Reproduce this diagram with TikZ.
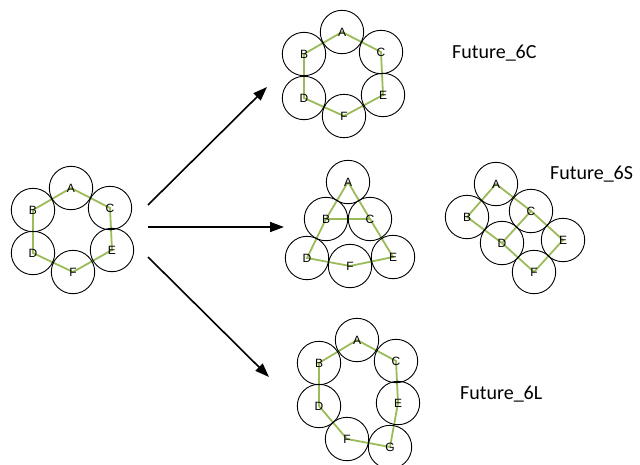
\documentclass[tikz,border=0pt]{standalone}
\usepackage{fontspec}
\setmainfont{Liberation Sans}
\newfontfamily\capfont{Carlito}
\usetikzlibrary{arrows.meta,backgrounds}
\definecolor{linkgreen}{RGB}{155,187,89}
\tikzset{
  ball/.style={circle,draw=black,line width=0.9pt,minimum size=43.4pt,inner sep=0pt,font=\fontsize{12}{12}\selectfont},
  link/.style={draw=linkgreen,line width=1.8pt},
  bigarrow/.style={line width=1.6pt,-{Triangle[length=14pt,width=10pt]}},
  caption/.style={anchor=base west,inner sep=0pt,font=\capfont\fontsize{20}{20}\selectfont}
}
\begin{document}
\begin{tikzpicture}[x=1pt,y=-1pt]
\useasboundingbox (0,0) rectangle (640,464);
% left group
\node[ball] (LA) at (71,188) {A};
\node[ball] (LB) at (33,210) {B};
\node[ball] (LC) at (110,208) {C};
\node[ball] (LD) at (33,253) {D};
\node[ball] (LE) at (112,250) {E};
\node[ball] (LF) at (73,272) {F};
% 6C group
\node[ball] (CA) at (342,32) {A};
\node[ball] (CB) at (304,54) {B};
\node[ball] (CC) at (381,52) {C};
\node[ball] (CD) at (304,98) {D};
\node[ball] (CE) at (383,95) {E};
\node[ball] (CF) at (344,116) {F};
% 6S triangle group
\node[ball] (TA) at (348,182) {A};
\node[ball] (TB) at (326,219) {B};
\node[ball] (TC) at (370,219) {C};
\node[ball] (TD) at (307,258) {D};
\node[ball] (TE) at (393,257) {E};
\node[ball] (TF) at (350,266) {F};
% 6S diamond group
\node[ball] (SA) at (496,184) {A};
\node[ball] (SB) at (467,217) {B};
\node[ball] (SC) at (531,211) {C};
\node[ball] (SD) at (502,243) {D};
\node[ball] (SE) at (563,240) {E};
\node[ball] (SF) at (534,272) {F};
% 6L group
\node[ball] (GA) at (357,340) {A};
\node[ball] (GB) at (319,363) {B};
\node[ball] (GC) at (396,361) {C};
\node[ball] (GD) at (319,406) {D};
\node[ball] (GE) at (398,403) {E};
\node[ball] (GF) at (347,439) {F};
\node[ball] (GG) at (390,447) {G};
\begin{scope}[on background layer]
\draw[link] (LB.center) -- (LA.center) -- (LC.center) -- (LE.center) -- (LF.center) -- (LD.center) -- (LB.center);
\draw[link] (CB.center) -- (CA.center) -- (CC.center) -- (CE.center) -- (CF.center) -- (CD.center) -- (CB.center);
\draw[link] (TA.center) -- (TB.center) -- (TD.center) -- (TF.center) -- (TE.center) -- (TC.center) -- (TA.center);
\draw[link] (TB.center) -- (TC.center);
\draw[link] (SB.center) -- (SA.center) -- (SC.center) -- (SE.center) -- (SF.center) -- (SD.center) -- (SB.center);
\draw[link] (SC.center) -- (SD.center);
\draw[link] (GB.center) -- (GA.center) -- (GC.center) -- (GE.center) -- (GG.center) -- (GF.center) -- (GD.center) -- (GB.center);
\end{scope}
% arrows
\coordinate (s1) at (148,205);
\coordinate (e1) at (267,87);
\coordinate (s2) at (148,227);
\coordinate (e2) at (284,227);
\coordinate (s3) at (148,257);
\coordinate (e3) at (269,377);
\draw[bigarrow] (s1) -- (e1);
\draw[bigarrow] (s2) -- (e2);
\draw[bigarrow] (s3) -- (e3);
% captions
\node[caption] (cap6C) at (452,58) {Future\_6C};
\node[caption] (cap6S) at (550,179) {Future\_6S};
\node[caption] (cap6L) at (460,399) {Future\_6L};
\end{tikzpicture}
\end{document}
